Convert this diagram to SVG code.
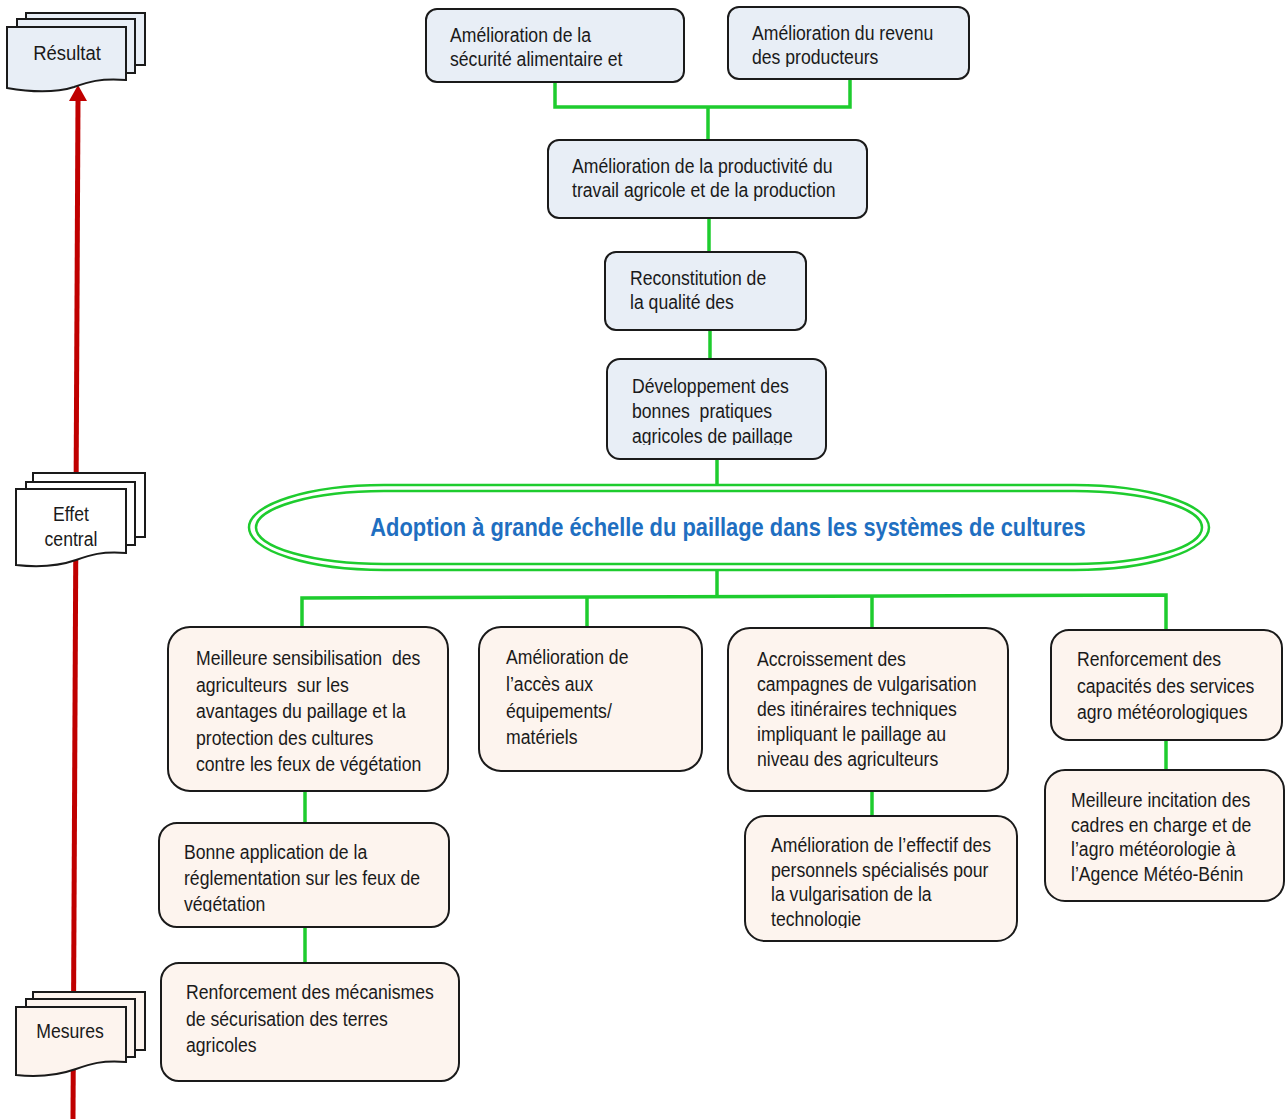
<svg xmlns="http://www.w3.org/2000/svg" width="1285" height="1119" viewBox="0 0 1285 1119">
  <style>
    .t { font-family: "Liberation Sans", Arial, sans-serif; font-size: 21px; fill: #1a1a1a; white-space: pre; }
    .blue { fill: #E8EEF6; stroke: #1a1a1a; stroke-width: 2; }
    .peach { fill: #FDF4EE; stroke: #1a1a1a; stroke-width: 2; }
    .doc { stroke: #1a1a1a; stroke-width: 2; }
    .link { stroke: #1ECC2E; stroke-width: 3.5; fill: none; }
    .ring { stroke: #1ECC2E; stroke-width: 2.5; fill: none; }
    .title { font-family: "Liberation Sans", Arial, sans-serif; font-size: 25px; font-weight: bold; fill: #1F6FC1; }
  </style>
  <defs>
    <clipPath id="clipB"><rect x="728" y="7" width="241" height="60"/></clipPath>
    <clipPath id="clipE"><rect x="607" y="359" width="219" height="86"/></clipPath>
    <clipPath id="clip6"><rect x="159" y="823" width="290" height="89"/></clipPath>
    <clipPath id="clip8"><rect x="745" y="816" width="272" height="112"/></clipPath>
  </defs>

  <rect width="1285" height="1119" fill="#ffffff"/>

  <!-- vertical progression axis -->
  <g id="axis">
    <line x1="73" y1="1119" x2="78" y2="99" stroke="#C00000" stroke-width="5"/>
    <polygon points="69,101 78,85 87,101" fill="#C00000"/>
  </g>

  <!-- stacked document labels -->
  <g id="doc-resultat">
    <rect x="26" y="13" width="119" height="52" fill="#E8EEF6" class="doc"/>
    <rect x="17" y="19" width="118" height="54" fill="#E8EEF6" class="doc"/>
    <path d="M7,27 H126 V80 C100,78 88,82 74,87 C55,93 30,92 7,88 Z" fill="#E8EEF6" class="doc"/>
    <g transform="translate(67,0) scale(0.88,1)"><text class="t" x="0" y="60" text-anchor="middle" font-size="24.5">Résultat</text></g>
  </g>
  <g id="doc-effet">
    <rect x="33" y="473" width="112" height="64" fill="#ffffff" class="doc"/>
    <rect x="26" y="482" width="109" height="63" fill="#ffffff" class="doc"/>
    <path d="M16,489 H126 V553 C102,551 90,555 76,560 C56,567 34,567 16,565 Z" fill="#ffffff" class="doc"/>
    <g transform="translate(71,0) scale(0.84,1)">
      <text class="t" x="0" y="521" text-anchor="middle">Effet</text>
      <text class="t" x="0" y="546" text-anchor="middle">central</text>
    </g>
  </g>
  <g id="doc-mesures">
    <rect x="33" y="992" width="112" height="58" fill="#FDF4EE" class="doc"/>
    <rect x="26" y="999" width="109" height="58" fill="#FDF4EE" class="doc"/>
    <path d="M16,1007 H126 V1062 C102,1060 90,1064 76,1069 C56,1076 34,1077 16,1075 Z" fill="#FDF4EE" class="doc"/>
    <g transform="translate(70,0) scale(0.84,1)"><text class="t" x="0" y="1038" text-anchor="middle">Mesures</text></g>
  </g>

  <!-- connectors -->
  <g id="connectors">
    <polyline class="link" points="555,82 555,107 850,107 850,79"/>
    <line class="link" x1="708" y1="107" x2="708" y2="140"/>
    <line class="link" x1="709" y1="218" x2="709" y2="252"/>
    <line class="link" x1="710" y1="330" x2="710" y2="359"/>
    <line class="link" x1="717" y1="459" x2="717" y2="485"/>
    <line class="link" x1="717" y1="570" x2="717" y2="597"/>
    <polyline class="link" points="302,627 302,598 1166,595 1166,630"/>
    <line class="link" x1="587" y1="597" x2="587" y2="627"/>
    <line class="link" x1="872" y1="596" x2="872" y2="628"/>
    <line class="link" x1="1166" y1="740" x2="1166" y2="770"/>
    <line class="link" x1="305" y1="791" x2="305" y2="823"/>
    <line class="link" x1="305" y1="927" x2="305" y2="963"/>
    <line class="link" x1="872" y1="791" x2="872" y2="816"/>
  </g>

  <!-- results chain -->
  <g id="secu-alim">
    <rect class="blue" x="426" y="9" width="258" height="73" rx="11"/>
    <g transform="translate(450,0) scale(0.84,1)">
      <text class="t" x="0" y="42">Amélioration de la</text>
      <text class="t" x="0" y="66">sécurité alimentaire et</text>
    </g>
  </g>
  <g id="revenu">
    <rect class="blue" x="728" y="7" width="241" height="72" rx="11"/>
    <g clip-path="url(#clipB)">
      <g transform="translate(752,0) scale(0.84,1)">
        <text class="t" x="0" y="40">Amélioration du revenu</text>
        <text class="t" x="0" y="64">des producteurs</text>
      </g>
    </g>
  </g>
  <g id="productivite">
    <rect class="blue" x="548" y="140" width="319" height="78" rx="11"/>
    <g transform="translate(572,0) scale(0.84,1)">
      <text class="t" x="0" y="173">Amélioration de la productivité du</text>
      <text class="t" x="0" y="197">travail agricole et de la production</text>
    </g>
  </g>
  <g id="qualite">
    <rect class="blue" x="605" y="252" width="201" height="78" rx="11"/>
    <g transform="translate(630,0) scale(0.84,1)">
      <text class="t" x="0" y="285">Reconstitution de</text>
      <text class="t" x="0" y="309">la qualité des</text>
    </g>
  </g>
  <g id="pratiques">
    <rect class="blue" x="607" y="359" width="219" height="100" rx="13"/>
    <g clip-path="url(#clipE)">
      <g transform="translate(632,0) scale(0.84,1)">
        <text class="t" x="0" y="393">Développement des</text>
        <text class="t" x="0" y="418">bonnes  pratiques</text>
        <text class="t" x="0" y="443">agricoles de paillage</text>
      </g>
    </g>
  </g>

  <!-- central effect -->
  <g id="effet-central">
    <rect class="ring" x="249" y="485" width="960" height="85" rx="135" ry="42.5"/>
    <rect class="ring" x="256" y="491" width="946" height="73" rx="128" ry="36.5"/>
    <g transform="translate(728,0) scale(0.875,1)">
      <text class="title" x="0" y="536" text-anchor="middle">Adoption à grande échelle du paillage dans les systèmes de cultures</text>
    </g>
  </g>

  <!-- measures -->
  <g id="sensibilisation">
    <rect class="peach" x="168" y="627" width="280" height="164" rx="22"/>
    <g transform="translate(196,0) scale(0.84,1)">
      <text class="t" x="0" y="665">Meilleure sensibilisation  des</text>
      <text class="t" x="0" y="692">agriculteurs  sur les</text>
      <text class="t" x="0" y="718">avantages du paillage et la</text>
      <text class="t" x="0" y="745">protection des cultures</text>
      <text class="t" x="0" y="771">contre les feux de végétation</text>
    </g>
  </g>
  <g id="equipements">
    <rect class="peach" x="479" y="627" width="223" height="144" rx="22"/>
    <g transform="translate(506,0) scale(0.84,1)">
      <text class="t" x="0" y="664">Amélioration de</text>
      <text class="t" x="0" y="691">l’accès aux</text>
      <text class="t" x="0" y="718">équipements/</text>
      <text class="t" x="0" y="744">matériels</text>
    </g>
  </g>
  <g id="vulgarisation">
    <rect class="peach" x="728" y="628" width="280" height="163" rx="22"/>
    <g transform="translate(757,0) scale(0.84,1)">
      <text class="t" x="0" y="666">Accroissement des</text>
      <text class="t" x="0" y="691">campagnes de vulgarisation</text>
      <text class="t" x="0" y="716">des itinéraires techniques</text>
      <text class="t" x="0" y="741">impliquant le paillage au</text>
      <text class="t" x="0" y="766">niveau des agriculteurs</text>
    </g>
  </g>
  <g id="capacites">
    <rect class="peach" x="1051" y="630" width="231" height="110" rx="18"/>
    <g transform="translate(1077,0) scale(0.84,1)">
      <text class="t" x="0" y="666">Renforcement des</text>
      <text class="t" x="0" y="693">capacités des services</text>
      <text class="t" x="0" y="719">agro météorologiques</text>
    </g>
  </g>
  <g id="incitation">
    <rect class="peach" x="1045" y="770" width="239" height="131" rx="20"/>
    <g transform="translate(1071,0) scale(0.84,1)">
      <text class="t" x="0" y="807">Meilleure incitation des</text>
      <text class="t" x="0" y="832">cadres en charge et de</text>
      <text class="t" x="0" y="856">l’agro météorologie à</text>
      <text class="t" x="0" y="881">l’Agence Météo-Bénin</text>
    </g>
  </g>
  <g id="reglementation">
    <rect class="peach" x="159" y="823" width="290" height="104" rx="18"/>
    <g clip-path="url(#clip6)">
      <g transform="translate(184,0) scale(0.84,1)">
        <text class="t" x="0" y="859">Bonne application de la</text>
        <text class="t" x="0" y="885">réglementation sur les feux de</text>
        <text class="t" x="0" y="911">végétation</text>
      </g>
    </g>
  </g>
  <g id="securisation">
    <rect class="peach" x="161" y="963" width="298" height="118" rx="18"/>
    <g transform="translate(186,0) scale(0.84,1)">
      <text class="t" x="0" y="999">Renforcement des mécanismes</text>
      <text class="t" x="0" y="1026">de sécurisation des terres</text>
      <text class="t" x="0" y="1052">agricoles</text>
    </g>
  </g>
  <g id="effectif">
    <rect class="peach" x="745" y="816" width="272" height="125" rx="20"/>
    <g clip-path="url(#clip8)">
      <g transform="translate(771,0) scale(0.84,1)">
        <text class="t" x="0" y="852">Amélioration de l’effectif des</text>
        <text class="t" x="0" y="877">personnels spécialisés pour</text>
        <text class="t" x="0" y="901">la vulgarisation de la</text>
        <text class="t" x="0" y="926">technologie</text>
      </g>
    </g>
  </g>
</svg>
